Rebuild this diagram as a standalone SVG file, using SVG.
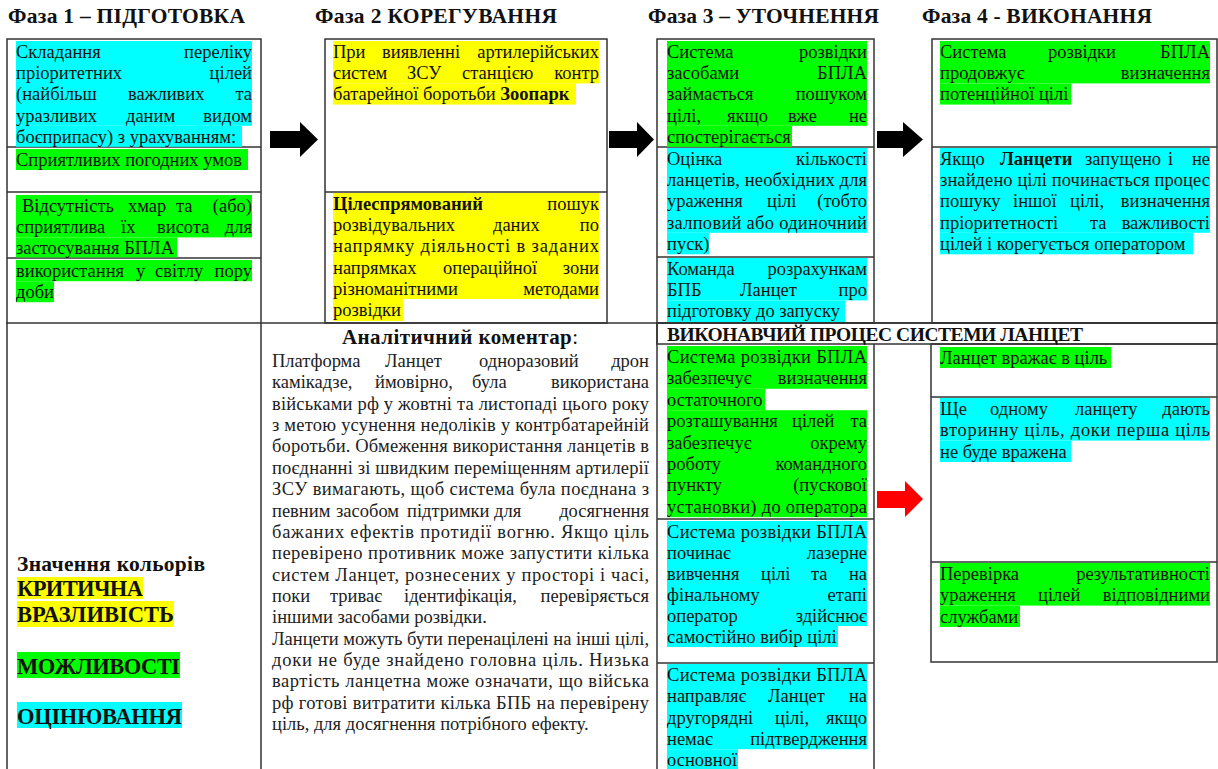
<svg xmlns="http://www.w3.org/2000/svg" width="1218" height="769" viewBox="0 0 1218 769">
<style>
.t{font-family:"Liberation Serif","Times New Roman",serif;font-size:18.5px;fill:#111}
.c{fill:#222}
.b{font-weight:bold}
.e{text-anchor:end}
.h{font-family:"Liberation Serif","Times New Roman",serif;font-size:21.5px;font-weight:bold;fill:#111}
.hc{fill:#00ffff}.hg{fill:#00ff00}.hy{fill:#ffff00}
.ln{fill:none;stroke:#333;stroke-width:1.5}
.ar{fill:#000}.ard{fill:#ff0000}
</style>
<rect x="0" y="0" width="1218" height="769" fill="#fff"/>

<g id="headers">
<text class="h" x="8" y="23" textLength="237" lengthAdjust="spacing">Фаза 1 – ПІДГОТОВКА</text>
<text class="h" x="315" y="23" textLength="242" lengthAdjust="spacing">Фаза 2 КОРЕГУВАННЯ</text>
<text class="h" x="648" y="23" textLength="231" lengthAdjust="spacing">Фаза 3 – УТОЧНЕННЯ</text>
<text class="h" x="922" y="23" textLength="230" lengthAdjust="spacing">Фаза 4 - ВИКОНАННЯ</text>
</g>

<g id="grid">
<rect class="ln" x="7" y="39" width="254" height="760"/>
<line class="ln" x1="7" y1="147" x2="261" y2="147"/>
<line class="ln" x1="7" y1="192" x2="261" y2="192"/>
<line class="ln" x1="7" y1="258" x2="261" y2="258"/>
<rect class="ln" x="325" y="39" width="282" height="284"/>
<line class="ln" x1="325" y1="192" x2="607" y2="192"/>
<rect class="ln" x="657" y="39" width="217" height="284"/>
<line class="ln" x1="657" y1="147" x2="874" y2="147"/>
<line class="ln" x1="657" y1="257" x2="874" y2="257"/>
<rect class="ln" x="932" y="39" width="285" height="284"/>
<line class="ln" x1="932" y1="147" x2="1217" y2="147"/>
<line class="ln" x1="6" y1="323" x2="1217" y2="323"/>
<line class="ln" x1="657" y1="323" x2="657" y2="780"/>
<rect class="ln" x="657" y="323" width="560" height="21"/>
<line class="ln" x1="874" y1="344" x2="874" y2="780"/>
<line class="ln" x1="657" y1="519" x2="874" y2="519"/>
<line class="ln" x1="657" y1="663" x2="874" y2="663"/>
<rect class="ln" x="931" y="344" width="286" height="318"/>
<line class="ln" x1="931" y1="397" x2="1217" y2="397"/>
<line class="ln" x1="931" y1="562" x2="1217" y2="562"/>
</g>

<g id="phase1">
<rect class="hc" x="16" y="41" width="236" height="84.8"/>
<rect class="hc" x="16" y="125.8" width="226" height="21"/>
<text class="t" x="16" y="58">Складання</text><text class="t e" x="252" y="58">переліку</text>
<text class="t" x="16" y="79.2">пріоритетних</text><text class="t e" x="252" y="79.2">цілей</text>
<text class="t" x="16" y="100.4">(найбільш</text><text class="t" x="128" y="100.4">важливих</text><text class="t e" x="252" y="100.4">та</text>
<text class="t" x="16" y="121.6">уразливих</text><text class="t" x="126" y="121.6">даним</text><text class="t e" x="252" y="121.6">видом</text>
<text class="t" x="16" y="142.8">боєприпасу) з урахуванням:</text>
<rect class="hg" x="16" y="149" width="232" height="21"/>
<text class="t" x="16" y="166">Сприятливих погодних умов</text>
<rect class="hg" x="16" y="195" width="236" height="42.4"/>
<rect class="hg" x="16" y="237.4" width="161" height="20"/>
<text class="t" x="22" y="212">Відсутність</text><text class="t" x="128" y="212">хмар</text><text class="t" x="176" y="212">та</text><text class="t e" x="252" y="212">(або)</text>
<text class="t" x="16" y="233.2">сприятлива</text><text class="t" x="121" y="233.2">їх</text><text class="t" x="157" y="233.2">висота</text><text class="t e" x="252" y="233.2">для</text>
<text class="t" x="16" y="254.4">застосування БПЛА</text>
<rect class="hg" x="16" y="260" width="236" height="21.2"/>
<rect class="hg" x="16" y="281.2" width="38" height="21"/>
<text class="t" x="16" y="277">використання</text><text class="t" x="136" y="277">у</text><text class="t" x="155" y="277">світлу</text><text class="t e" x="252" y="277">пору</text>
<text class="t" x="16" y="298.2">доби</text>
</g>

<g id="phase2">
<rect class="hy" x="333" y="41" width="266" height="42.4"/>
<rect class="hy" x="333" y="83.4" width="243" height="21.2"/>
<text class="t" x="333" y="58">При</text><text class="t" x="382" y="58">виявленні</text><text class="t e" x="599" y="58">артилерійських</text>
<text class="t" x="333" y="79.2">систем</text><text class="t" x="407" y="79.2">ЗСУ</text><text class="t" x="462" y="79.2">станцією</text><text class="t e" x="599" y="79.2">контр</text>
<text class="t" x="333" y="100.4">батарейної боротьби <tspan class="b">Зоопарк</tspan></text>
<rect class="hy" x="333" y="193" width="266" height="106"/>
<rect class="hy" x="333" y="299" width="70" height="22"/>
<text class="t b" x="333" y="210">Цілеспрямований</text><text class="t e" x="599" y="210">пошук</text>
<text class="t" x="333" y="231.2">розвідувальних</text><text class="t" x="493" y="231.2">даних</text><text class="t e" x="599" y="231.2">по</text>
<text class="t" x="333" y="252.4" textLength="266" lengthAdjust="spacing">напрямку діяльності в заданих</text>
<text class="t" x="333" y="273.6">напрямках</text><text class="t" x="443" y="273.6">операційної</text><text class="t e" x="599" y="273.6">зони</text>
<text class="t" x="333" y="294.8">різноманітними</text><text class="t e" x="599" y="294.8">методами</text>
<text class="t" x="333" y="316">розвідки</text>
</g>

<g id="phase3">
<rect class="hg" x="667" y="41" width="200" height="84.8"/>
<rect class="hg" x="667" y="125.8" width="125" height="21"/>
<text class="t" x="667" y="58">Система</text><text class="t e" x="867" y="58">розвідки</text>
<text class="t" x="667" y="79.2">засобами</text><text class="t e" x="867" y="79.2">БПЛА</text>
<text class="t" x="667" y="100.4">займається</text><text class="t e" x="867" y="100.4">пошуком</text>
<text class="t" x="667" y="121.6">цілі,</text><text class="t" x="727" y="121.6">якщо</text><text class="t" x="788" y="121.6">вже</text><text class="t e" x="867" y="121.6">не</text>
<text class="t" x="667" y="142.8">спостерігається</text>
<rect class="hc" x="667" y="148" width="200" height="84.8"/>
<rect class="hc" x="667" y="232.8" width="42" height="21.5"/>
<text class="t" x="667" y="165">Оцінка</text><text class="t e" x="867" y="165">кількості</text>
<text class="t" x="667" y="186.2" textLength="200" lengthAdjust="spacing">ланцетів, необхідних для</text>
<text class="t" x="667" y="207.4">ураження</text><text class="t" x="767" y="207.4">цілі</text><text class="t e" x="867" y="207.4">(тобто</text>
<text class="t" x="667" y="228.6" textLength="200" lengthAdjust="spacing">залповий або одиночний</text>
<text class="t" x="667" y="249.8">пуск)</text>
<rect class="hc" x="667" y="258" width="200" height="42.4"/>
<rect class="hc" x="667" y="300.4" width="178" height="21.6"/>
<text class="t" x="667" y="275">Команда</text><text class="t e" x="867" y="275">розрахункам</text>
<text class="t" x="667" y="296.2">БПБ</text><text class="t" x="740" y="296.2">Ланцет</text><text class="t e" x="867" y="296.2">про</text>
<text class="t" x="667" y="317.4">підготовку до запуску</text>
</g>

<g id="phase4">
<rect class="hg" x="940" y="41" width="270" height="42.4"/>
<rect class="hg" x="940" y="83.4" width="131" height="21.2"/>
<text class="t" x="940" y="58">Система</text><text class="t" x="1048" y="58">розвідки</text><text class="t e" x="1210" y="58">БПЛА</text>
<text class="t" x="940" y="79.2">продовжує</text><text class="t e" x="1210" y="79.2">визначення</text>
<text class="t" x="940" y="100.4">потенційної цілі</text>
<rect class="hc" x="940" y="148" width="270" height="84.8"/>
<rect class="hc" x="940" y="232.8" width="253" height="21.5"/>
<text class="t" x="940" y="165">Якщо</text><text class="t b" x="1000" y="165">Ланцети</text><text class="t" x="1085" y="165">запущено</text><text class="t" x="1168" y="165">і</text><text class="t e" x="1210" y="165">не</text>
<text class="t" x="940" y="186.2" textLength="270" lengthAdjust="spacing">знайдено цілі починається процес</text>
<text class="t" x="940" y="207.4">пошуку</text><text class="t" x="1013" y="207.4">іншої</text><text class="t" x="1070" y="207.4">цілі,</text><text class="t e" x="1210" y="207.4">визначення</text>
<text class="t" x="940" y="228.6">пріоритетності</text><text class="t" x="1090" y="228.6">та</text><text class="t e" x="1210" y="228.6">важливості</text>
<text class="t" x="940" y="249.8">цілей і корегується оператором</text>
</g>

<g id="legend">
<text class="h" x="17" y="571" textLength="188" lengthAdjust="spacing">Значення кольорів</text>
<rect class="hy" x="17" y="577" width="126" height="22"/>
<rect class="hy" x="17" y="601" width="157" height="26"/>
<rect class="hg" x="17" y="652" width="163" height="26"/>
<rect class="hc" x="17" y="702" width="165" height="26"/>
<text class="h" x="17" y="596" style="font-size:22.5px" textLength="126" lengthAdjust="spacing">КРИТИЧНА</text>
<text class="h" x="17" y="622" style="font-size:22.5px" textLength="157" lengthAdjust="spacing">ВРАЗЛИВІСТЬ</text>
<text class="h" x="17" y="674" style="font-size:22.5px" textLength="163" lengthAdjust="spacing">МОЖЛИВОСТІ</text>
<text class="h" x="17" y="724" style="font-size:22.5px" textLength="165" lengthAdjust="spacing">ОЦІНЮВАННЯ</text>
</g>

<g id="comment">
<text class="h" x="342" y="344" style="font-size:21px" textLength="236" lengthAdjust="spacing">Аналітичний коментар<tspan font-weight="normal">:</tspan></text>
<text class="t c" x="272" y="367">Платформа</text><text class="t c" x="385" y="367">Ланцет</text><text class="t c" x="479" y="367">одноразовий</text><text class="t c e" x="649" y="367">дрон</text>
<text class="t c" x="272" y="388.4">камікадзе,</text><text class="t c" x="375" y="388.4">ймовірно,</text><text class="t c" x="472" y="388.4">була</text><text class="t c e" x="649" y="388.4">використана</text>
<text class="t c" x="272" y="409.7" textLength="377" lengthAdjust="spacing">військами рф у жовтні та листопаді цього року</text>
<text class="t c" x="272" y="431.1" textLength="377" lengthAdjust="spacing">з метою усунення недоліків у контрбатарейній</text>
<text class="t c" x="272" y="452.4" textLength="377" lengthAdjust="spacing">боротьби. Обмеження використання ланцетів в</text>
<text class="t c" x="272" y="473.8" textLength="377" lengthAdjust="spacing">поєднанні зі швидким переміщенням артилерії</text>
<text class="t c" x="272" y="495.1" textLength="377" lengthAdjust="spacing">ЗСУ вимагають, щоб система була поєднана з</text>
<text class="t c" x="272" y="516.5">певним</text><text class="t c" x="336" y="516.5">засобом</text><text class="t c" x="407" y="516.5">підтримки</text><text class="t c" x="494" y="516.5">для</text><text class="t c e" x="649" y="516.5">досягнення</text>
<text class="t c" x="272" y="537.8" textLength="377" lengthAdjust="spacing">бажаних ефектів протидії вогню. Якщо ціль</text>
<text class="t c" x="272" y="559.2" textLength="377" lengthAdjust="spacing">перевірено противник може запустити кілька</text>
<text class="t c" x="272" y="580.5" textLength="377" lengthAdjust="spacing">систем Ланцет, рознесених у просторі і часі,</text>
<text class="t c" x="272" y="601.9">поки</text><text class="t c" x="330" y="601.9">триває</text><text class="t c" x="404" y="601.9">ідентифікація,</text><text class="t c e" x="649" y="601.9">перевіряється</text>
<text class="t c" x="272" y="623.2">іншими засобами розвідки.</text>
<text class="t c" x="272" y="644.6" textLength="377" lengthAdjust="spacing">Ланцети можуть бути перенацілені на інші цілі,</text>
<text class="t c" x="272" y="665.9" textLength="377" lengthAdjust="spacing">доки не буде знайдено головна ціль. Низька</text>
<text class="t c" x="272" y="687.3" textLength="377" lengthAdjust="spacing">вартість ланцетна може означати, що війська</text>
<text class="t c" x="272" y="708.6" textLength="377" lengthAdjust="spacing">рф готові витратити кілька БПБ на перевірену</text>
<text class="t c" x="272" y="730">ціль, для досягнення потрібного ефекту.</text>
</g>

<g id="execution-header">
<text class="t b" x="667" y="341" style="font-size:19.5px" textLength="416" lengthAdjust="spacing">ВИКОНАВЧИЙ ПРОЦЕС СИСТЕМИ ЛАНЦЕТ</text>
</g>

<g id="exec-left">
<rect class="hg" x="667" y="346" width="200" height="42.8"/>
<rect class="hg" x="667" y="388.8" width="98" height="21.4"/>
<rect class="hg" x="667" y="410.2" width="200" height="107"/>
<text class="t" x="667" y="363" textLength="200" lengthAdjust="spacing">Система розвідки БПЛА</text>
<text class="t" x="667" y="384.4">забезпечує</text><text class="t e" x="867" y="384.4">визначення</text>
<text class="t" x="667" y="405.8">остаточного</text>
<text class="t" x="667" y="427.2">розташування</text><text class="t" x="792" y="427.2">цілей</text><text class="t e" x="867" y="427.2">та</text>
<text class="t" x="667" y="448.6">забезпечує</text><text class="t e" x="867" y="448.6">окрему</text>
<text class="t" x="667" y="470">роботу</text><text class="t e" x="867" y="470">командного</text>
<text class="t" x="667" y="491.4">пункту</text><text class="t e" x="867" y="491.4">(пускової</text>
<text class="t" x="667" y="512.8" textLength="200" lengthAdjust="spacing">установки) до оператора</text>
<rect class="hc" x="667" y="521" width="200" height="105"/>
<rect class="hc" x="667" y="626" width="171" height="21"/>
<text class="t" x="667" y="538" textLength="200" lengthAdjust="spacing">Система розвідки БПЛА</text>
<text class="t" x="667" y="559">починає</text><text class="t e" x="867" y="559">лазерне</text>
<text class="t" x="667" y="580">вивчення</text><text class="t" x="761" y="580">цілі</text><text class="t" x="811" y="580">та</text><text class="t e" x="867" y="580">на</text>
<text class="t" x="667" y="601">фінальному</text><text class="t e" x="867" y="601">етапі</text>
<text class="t" x="667" y="622">оператор</text><text class="t e" x="867" y="622">здійснює</text>
<text class="t" x="667" y="643">самостійно вибір цілі</text>
<rect class="hc" x="667" y="664" width="200" height="85.2"/>
<rect class="hc" x="667" y="749.2" width="71" height="21"/>
<text class="t" x="667" y="681" textLength="200" lengthAdjust="spacing">Система розвідки БПЛА</text>
<text class="t" x="667" y="702.3">направляє</text><text class="t" x="768" y="702.3">Ланцет</text><text class="t e" x="867" y="702.3">на</text>
<text class="t" x="667" y="723.6">другорядні</text><text class="t" x="775" y="723.6">цілі,</text><text class="t e" x="867" y="723.6">якщо</text>
<text class="t" x="667" y="744.9">немає</text><text class="t e" x="867" y="744.9">підтвердження</text>
<text class="t" x="667" y="766.2">основної</text>
</g>

<g id="exec-right">
<rect class="hg" x="940" y="347" width="171" height="21"/>
<text class="t" x="940" y="364">Ланцет вражає в ціль</text>
<rect class="hc" x="940" y="398" width="270" height="42.6"/>
<rect class="hc" x="940" y="440.6" width="131" height="21.4"/>
<text class="t" x="940" y="415">Ще</text><text class="t" x="990" y="415">одному</text><text class="t" x="1075" y="415">ланцету</text><text class="t e" x="1210" y="415">дають</text>
<text class="t" x="940" y="436.3" textLength="270" lengthAdjust="spacing">вторинну ціль, доки перша ціль</text>
<text class="t" x="940" y="457.6">не буде вражена</text>
<rect class="hg" x="940" y="563" width="270" height="42.6"/>
<rect class="hg" x="940" y="605.6" width="80" height="21.4"/>
<text class="t" x="940" y="580">Перевірка</text><text class="t e" x="1210" y="580">результативності</text>
<text class="t" x="940" y="601.3">ураження</text><text class="t" x="1038" y="601.3">цілей</text><text class="t e" x="1210" y="601.3">відповідними</text>
<text class="t" x="940" y="622.6">службами</text>
</g>

<g id="connectors">
<polygon class="ar" points="270,131 300,131 300,122 318,139.5 300,157 300,148 270,148"/>
<polygon class="ar" points="609,131 637,131 637,122 654,139.5 637,157 637,148 609,148"/>
<polygon class="ar" points="877,131 903,131 903,122 923,139.5 903,157 903,148 877,148"/>
<polygon class="ard" points="877,491 905,491 905,481 923,499 905,517 905,508 877,508"/>
</g>
</svg>
